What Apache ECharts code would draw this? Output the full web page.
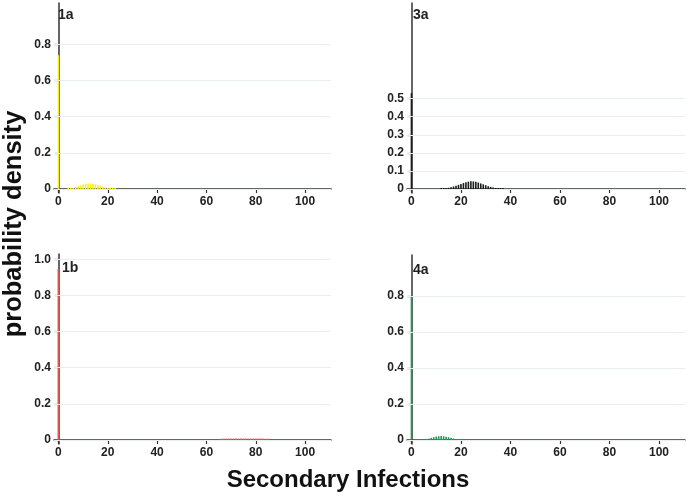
<!DOCTYPE html>
<html><head><meta charset="utf-8">
<script src="https://cdn.jsdelivr.net/npm/echarts@6/dist/echarts.min.js"></script>
<style>html,body{margin:0;padding:0;background:#fff}#c{width:687px;height:495px}</style>
</head><body><div id="c"></div>
<script>
// x tick labels: number of secondary infections
var xTicks = [0, 20, 40, 60, 80, 100];
var panelNames = ['1a', '3a', '1b', '4a'];
// [x, probability] pairs
var data1a = [[0,0.74],[4,0.002],[5,0.004],[6,0.007],[7,0.011],[8,0.015],[9,0.020],[10,0.025],[11,0.028],[12,0.030],[13,0.030],[14,0.028],[15,0.025],[16,0.021],[17,0.017],[18,0.013],[19,0.009],[20,0.006],[21,0.004],[22,0.002],[23,0.001]];
var data3a = [[0,0.53],[12,0.002],[13,0.003],[14,0.005],[15,0.007],[16,0.010],[17,0.014],[18,0.018],[19,0.023],[20,0.028],[21,0.033],[22,0.038],[23,0.041],[24,0.043],[25,0.042],[26,0.040],[27,0.036],[28,0.031],[29,0.026],[30,0.021],[31,0.016],[32,0.012],[33,0.009],[34,0.006],[35,0.004],[36,0.003],[37,0.002]];
var data1b = [[0,0.945],[66,0.007],[67,0.008],[68,0.008],[69,0.008],[70,0.008],[71,0.008],[72,0.008],[73,0.008],[74,0.008],[75,0.008],[76,0.008],[77,0.008],[78,0.008],[79,0.008],[80,0.008],[81,0.008],[82,0.008],[83,0.008],[84,0.007],[85,0.007]];
var data4a = [[0,0.80],[5,0.002],[6,0.004],[7,0.008],[8,0.012],[9,0.016],[10,0.019],[11,0.021],[12,0.022],[13,0.021],[14,0.019],[15,0.016],[16,0.012],[17,0.009],[18,0.006],[19,0.004],[20,0.002]];
var yTicks1a = [0, 0.2, 0.4, 0.6, 0.8];
var yTicks3a = [0, 0.1, 0.2, 0.3, 0.4, 0.5];
var yTicks1b = [0, 0.2, 0.4, 0.6, 0.8, 1.0];
var yTicks4a = [0, 0.2, 0.4, 0.6, 0.8];

var allData = [data1a, data3a, data1b, data4a];
var allYTicks = [yTicks1a, yTicks3a, yTicks1b, yTicks4a];
var colors = ['#f7ec1c', '#1a1a1a', '#dc5a52', '#1f9a55'];
var grids = [
  {left: 54, top: 3, width: 277, height: 190},
  {left: 407, top: 3, width: 278, height: 190},
  {left: 54, top: 254, width: 277, height: 190},
  {left: 407, top: 255, width: 278, height: 189}
];
var font = 'Liberation Sans, Arial, sans-serif';
var axisCol = '#333';

var xAxes = [], yAxes = [], series = [], titles = [];
grids.forEach(function (g, i) {
  xAxes.push({
    type: 'value', gridIndex: i, min: -1.8, max: 110.5,
    axisLine: {show: true, lineStyle: {color: axisCol, width: 1.5}},
    axisTick: {show: true, length: 4, customValues: xTicks, lineStyle: {color: axisCol, width: 1.2}},
    axisLabel: {customValues: xTicks, color: '#222', fontWeight: 'bold', fontSize: 12, fontFamily: font, margin: 3},
    splitLine: {show: false}
  });
  var yt = allYTicks[i];
  yAxes.push({
    type: 'value', gridIndex: i, min: -0.022, max: 1.029,
    axisLine: {show: true, lineStyle: {color: axisCol, width: 1.5}},
    axisTick: {show: true, length: 4, customValues: yt, lineStyle: {color: axisCol, width: 1.2}},
    axisLabel: {customValues: yt, color: '#222', fontWeight: 'bold', fontSize: 12, fontFamily: font, margin: 3,
      formatter: function (v) { return v === 0 ? '0' : v.toFixed(1); }},
    splitLine: {show: false}
  });
  // gridlines (drawn underneath the bars)
  series.push({
    type: 'line', xAxisIndex: i, yAxisIndex: i, data: [], silent: true, z: 1,
    markLine: {
      silent: true, symbol: 'none', label: {show: false}, animation: false,
      lineStyle: {color: '#e9eef0', type: 'solid', width: 1},
      data: yt.map(function (v) { return {yAxis: v}; })
    }
  });
  series.push({
    type: 'bar', xAxisIndex: i, yAxisIndex: i, data: allData[i],
    barWidth: i === 2 ? 1.8 : 1.6, barMinHeight: 1,
    itemStyle: {color: colors[i]}, silent: true, z: 3
  });
});
titles.push({text: panelNames[0], left: 58, top: 8});
titles.push({text: panelNames[1], left: 413, top: 8});
titles.push({text: panelNames[2], left: 62, top: 261});
titles.push({text: panelNames[3], left: 413, top: 263});
titles.forEach(function (t) {
  t.padding = 0;
  t.textStyle = {fontSize: 14, fontWeight: 'bold', color: '#222', fontFamily: font};
});

var chart = echarts.init(document.getElementById('c'), null, {renderer: 'canvas'});
chart.setOption({
  animation: false,
  backgroundColor: '#fff',
  title: titles,
  grid: grids,
  xAxis: xAxes,
  yAxis: yAxes,
  series: series,
  graphic: [
    {type: 'text', x: 348, y: 480, style: {text: 'Secondary Infections', font: 'bold 24px ' + font, fill: '#111', textAlign: 'center', textVerticalAlign: 'middle'}},
    {type: 'text', x: 14, y: 224, rotation: Math.PI / 2, style: {text: 'probability density', font: 'bold 25.5px ' + font, fill: '#111', textAlign: 'center', textVerticalAlign: 'middle'}}
  ]
});
</script></body></html>
